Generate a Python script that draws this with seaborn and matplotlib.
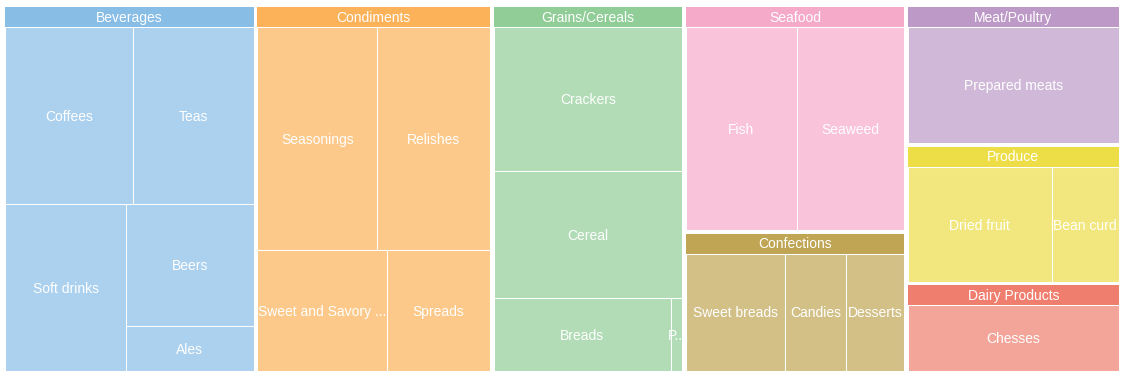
import matplotlib
matplotlib.use("Agg")
import matplotlib.pyplot as plt
from matplotlib.patches import Rectangle
import seaborn as sns

group_names = ["Beverages", "Condiments", "Grains/Cereals", "Seafood",
               "Confections", "Meat/Poultry", "Produce", "Dairy Products"]

bev_labels = ["Coffees", "Teas", "Soft drinks", "Beers", "Ales"]
bev_values = [245, 231, 218, 169, 62]

cond_labels = ["Seasonings", "Relishes", "Sweet and Savory Sauces", "Spreads"]
cond_values = [291, 273, 169, 135]

grain_labels = ["Crackers", "Cereal", "Breads", "Pasta"]
grain_values = [295, 260, 141, 9]

sea_labels = ["Fish", "Seaweed"]
sea_values = [256, 247]

conf_labels = ["Sweet breads", "Candies", "Desserts"]
conf_values = [141, 88, 83]

meat_labels = ["Prepared meats"]
meat_values = [299]

prod_labels = ["Dried fruit", "Bean curd"]
prod_values = [203, 95]

dairy_labels = ["Chesses"]
dairy_values = [190]

header_colors = ["#88bde6", "#fbb258", "#90cd97", "#f6aac9",
                 "#bfa554", "#bc99c7", "#eddd46", "#f07e6e"]

groups = list(zip(group_names,
                  [bev_labels, cond_labels, grain_labels, sea_labels,
                   conf_labels, meat_labels, prod_labels, dairy_labels],
                  [bev_values, cond_values, grain_values, sea_values,
                   conf_values, meat_values, prod_values, dairy_values],
                  header_colors))


# --- squarified layout (Bruls et al.) ---
def worst(row, side):
    s = sum(row)
    return max(max(side * side * r / (s * s), s * s / (side * side * r)) for r in row)


def squarify(values, x, y, dx, dy):
    total = sum(values)
    areas = [v * dx * dy / total for v in values]
    rects = []
    while areas:
        side = min(dx, dy)
        row = [areas[0]]
        i = 1
        while i < len(areas) and worst(row + [areas[i]], side) <= worst(row, side):
            row.append(areas[i])
            i += 1
        s = sum(row)
        if dx >= dy:
            cw = s / dy
            yy = y
            for a in row:
                rects.append((x, yy, cw, a / cw))
                yy += a / cw
            x += cw
            dx -= cw
        else:
            rh = s / dx
            xx = x
            for a in row:
                rects.append((xx, y, a / rh, rh))
                xx += a / rh
            y += rh
            dy -= rh
        areas = areas[i:]
    return rects


def lighten(c, alpha=0.7):
    r, g, b = matplotlib.colors.to_rgb(c)
    return (alpha * r + 1 - alpha, alpha * g + 1 - alpha, alpha * b + 1 - alpha)


sns.set_theme(style="white")
plt.rcParams["font.family"] = ["Liberation Sans", "DejaVu Sans"]
sns.set_palette(header_colors)

W, H = 1126, 379
fig = plt.figure(figsize=(W / 100, H / 100), dpi=100)
ax = fig.add_axes([0, 0, 1, 1])
ax.set_xlim(0, W)
ax.set_ylim(H, 0)
ax.axis("off")
renderer = fig.canvas.get_renderer()


def fit_label(x, y, w, text, size=10):
    t = ax.text(x + w / 2, y, text, color="white", fontsize=size,
                ha="center", va="center")
    n = len(text)
    while t.get_window_extent(renderer).width > w + 2 and n > 1:
        n -= 1
        t.set_text(text[:n] + "...")
    return t


# sort groups by value, largest first
groups.sort(key=lambda g: -sum(g[2]))
group_rects = squarify([sum(g[2]) for g in groups], 3.5, 5.5, 1117, 367)

pad = 1.6
header_h = 20
for (name, labels, values, color), (gx, gy, gw, gh) in zip(groups, group_rects):
    gx, gy, gw, gh = gx + pad, gy + pad, gw - 2 * pad, gh - 2 * pad
    ax.add_patch(Rectangle((gx, gy), gw, header_h, facecolor=color, edgecolor="none"))
    fit_label(gx, gy + header_h / 2 + 0.5, gw, name)

    order = sorted(range(len(values)), key=lambda k: -values[k])
    child_rects = squarify([values[k] for k in order], gx, gy + header_h, gw, gh - header_h)
    for k, (cx, cy, cw, ch) in zip(order, child_rects):
        ax.add_patch(Rectangle((cx, cy), cw, ch, facecolor=lighten(color),
                               edgecolor="white", linewidth=0.75))
        fit_label(cx, cy + ch / 2 + 1.2, cw, labels[k])

fig.savefig("out.png", dpi=100, facecolor="white")
